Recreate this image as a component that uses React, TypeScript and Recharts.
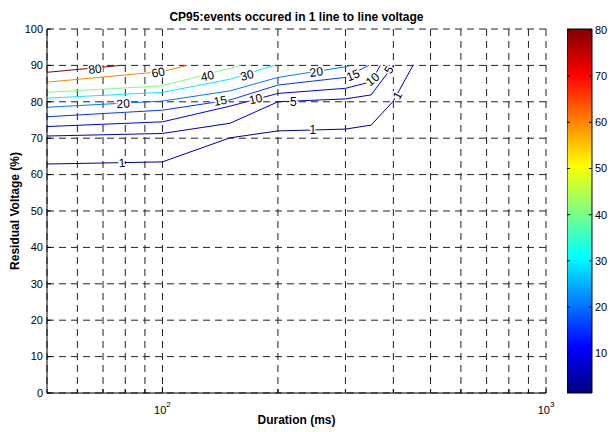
import { CartesianGrid, ComposedChart, Line, ReferenceArea, Scatter, XAxis, YAxis } from 'recharts';

const FONT = '"Liberation Sans", Arial, Helvetica, sans-serif';

// axis ticks (duration is log scaled, 50 ms .. 1 s)
const X_TICKS = [60, 70, 80, 90, 100, 200, 300, 400, 500, 600, 700, 800, 900, 1000];
const Y_TICKS = [0, 10, 20, 30, 40, 50, 60, 70, 80, 90, 100];
const CBAR_TICKS = [10, 20, 30, 40, 50, 60, 70, 80];
const CBAR_RANGE = [1.4, 80.2];

// contour lines, [duration ms, residual voltage %]
const LEVEL_1 = [[50, 62.9], [100, 63.5], [150, 70.1], [200, 72.0], [300, 72.5], [350, 73.6], [400, 80.2], [450, 90]];
const LEVEL_5 = [[50, 70.6], [100, 71.3], [150, 74.1], [200, 80.0], [300, 80.8], [350, 81.9], [400, 90]];
const LEVEL_10 = [[50, 73.2], [100, 74.5], [150, 78.8], [200, 82.3], [300, 83.7], [350, 85.5], [370, 90]];
const LEVEL_15 = [[50, 75.9], [100, 77.7], [150, 80.5], [200, 84.6], [300, 86.7], [345, 90]];
const LEVEL_20 = [[50, 78.5], [100, 80.2], [150, 83.0], [200, 86.7], [300, 89.6], [310, 90]];
const LEVEL_30 = [[50, 81.0], [100, 82.6], [150, 86.2], [195, 90]];
const LEVEL_40 = [[50, 82.6], [100, 84.4], [150, 89.2], [160, 90]];
const LEVEL_60 = [[50, 85.4], [100, 88.3], [116, 90]];
const LEVEL_80 = [[50, 88.1], [78, 90]];

// inline contour labels: text, duration, voltage
const LABEL_TEXT = ['80', '60', '40', '30', '20', '20', '15', '15', '10', '10', '5', '5', '1', '1', '1'];
const LABEL_MS = [66.7, 97.5, 131, 166, 79, 252, 141.5, 314, 175, 353, 219.5, 389, 78.5, 246.5, 410];
const LABEL_V = [89.0, 88.1, 87.1, 87.3, 79.5, 88.2, 80.3, 87.3, 80.8, 86.2, 80.0, 88.8, 63.2, 72.2, 81.8];
const LABEL_ANGLE = [-8, -12, -12, -14, -4, -8, -10, -22, -12, -40, 0, -60, -4, 0, -62];

// jet colormap colours at each level
const contours = [
  { level: 1, pts: LEVEL_1, color: '#00008b' },
  { level: 5, pts: LEVEL_5, color: '#0000b8' },
  { level: 10, pts: LEVEL_10, color: '#0000f2' },
  { level: 15, pts: LEVEL_15, color: '#0038ff' },
  { level: 20, pts: LEVEL_20, color: '#0078ff' },
  { level: 30, pts: LEVEL_30, color: '#00f0ff' },
  { level: 40, pts: LEVEL_40, color: '#7cff83' },
  { level: 60, pts: LEVEL_60, color: '#ff8400' },
  { level: 80, pts: LEVEL_80, color: '#800000' },
];

const labels = LABEL_TEXT.map((t, i) => ({ ms: LABEL_MS[i], v: LABEL_V[i], t, a: LABEL_ANGLE[i] }));

function XTick({ x, y, payload }: any) {
  const v = payload.value;
  const major = v === 100 || v === 1000;
  return (
    <g>
      <line x1={x} x2={x} y1={y} y2={y - (major ? 6 : 4)} stroke="#000" />
      {major && (
        <text x={x} y={y + 21} textAnchor="middle" fontSize={11} fontFamily={FONT} fill="#000">
          10<tspan dy={-7} fontSize={8}>{v === 100 ? '2' : '3'}</tspan>
        </text>
      )}
    </g>
  );
}

function YTick({ x, y, payload }: any) {
  return (
    <g>
      <line x1={x} x2={x + 4} y1={y} y2={y} stroke="#000" />
      <text x={x - 4} y={y} dy="0.35em" textAnchor="end" fontSize={11} fontFamily={FONT} fill="#000">
        {payload.value}
      </text>
    </g>
  );
}

function CbarTick({ x, y, payload }: any) {
  return (
    <g>
      <line x1={x - 3} x2={x} y1={y} y2={y} stroke="#000" />
      <line x1={x - 25} x2={x - 22} y1={y} y2={y} stroke="#000" />
      <text x={x + 3} y={y} dy="0.35em" textAnchor="start" fontSize={11} fontFamily={FONT} fill="#000">
        {payload.value}
      </text>
    </g>
  );
}

function ContourLabel(p: any) {
  const { cx, cy, payload } = p;
  return (
    <text
      x={cx}
      y={cy}
      dy="0.35em"
      textAnchor="middle"
      fontSize={12}
      fontFamily={FONT}
      fill="#000"
      stroke="#fff"
      strokeWidth={3}
      paintOrder="stroke"
      transform={`rotate(${payload.a}, ${cx}, ${cy})`}
    >
      {payload.t}
    </text>
  );
}

export default function App() {
  return (
    <div style={{ position: 'absolute', left: 0, top: 0, width: 613, height: 432, background: '#fff' }}>
      <svg width={0} height={0} style={{ position: 'absolute' }}>
        <defs>
          <linearGradient id="jet" x1="0" y1="1" x2="0" y2="0">
            <stop offset="0" stopColor="#000080" />
            <stop offset="0.125" stopColor="#0000ff" />
            <stop offset="0.375" stopColor="#00ffff" />
            <stop offset="0.625" stopColor="#ffff00" />
            <stop offset="0.875" stopColor="#ff0000" />
            <stop offset="1" stopColor="#800000" />
          </linearGradient>
        </defs>
      </svg>

      <div style={{ position: 'absolute', left: 0, top: 0 }}>
        <ComposedChart width={613} height={432} margin={{ top: 29, right: 67, bottom: 0, left: 0 }}>
          <CartesianGrid stroke="#222" strokeDasharray="7 5" />
          <XAxis
            dataKey="ms"
            type="number"
            scale="log"
            domain={[50, 1000]}
            allowDataOverflow
            ticks={X_TICKS}
            interval={0}
            height={39}
            tickSize={0}
            tickMargin={0}
            tick={<XTick />}
            axisLine={{ stroke: '#000' }}
          />
          <YAxis
            type="number"
            domain={[0, 100]}
            ticks={Y_TICKS}
            interval={0}
            width={47}
            tickSize={0}
            tickMargin={0}
            tick={<YTick />}
            axisLine={{ stroke: '#000' }}
          />
          {contours.map((c) => (
            <Line
              key={c.level}
              data={c.pts.map(([ms, v]) => ({ ms, v }))}
              dataKey="v"
              type="linear"
              stroke={c.color}
              strokeWidth={1}
              dot={false}
              activeDot={false}
              isAnimationActive={false}
            />
          ))}
          <Scatter data={labels} dataKey="v" shape={ContourLabel} isAnimationActive={false} />
        </ComposedChart>
      </div>

      <div style={{ position: 'absolute', left: 567, top: 0 }}>
        <ComposedChart
          width={46}
          height={432}
          data={[{ x: 0 }, { x: 1 }]}
          margin={{ top: 29, right: 0, bottom: 39, left: 0 }}
        >
          <XAxis dataKey="x" type="number" domain={[0, 1]} hide />
          <YAxis
            orientation="right"
            type="number"
            domain={CBAR_RANGE}
            allowDataOverflow
            ticks={CBAR_TICKS}
            interval={0}
            width={21}
            tickSize={0}
            tickMargin={0}
            tick={<CbarTick />}
            axisLine={false}
          />
          <ReferenceArea
            x1={0}
            x2={1}
            y1={CBAR_RANGE[0]}
            y2={CBAR_RANGE[1]}
            fill="url(#jet)"
            fillOpacity={1}
            stroke="#000"
            strokeWidth={1}
          />
        </ComposedChart>
      </div>

      <svg width={613} height={432} style={{ position: 'absolute', left: 0, top: 0, pointerEvents: 'none' }}>
        <text x={296.5} y={21} textAnchor="middle" fontSize={12} fontWeight="bold" fontFamily={FONT} fill="#000">
          CP95:events occured in 1 line to line voltage
        </text>
        <text x={296.5} y={424} textAnchor="middle" fontSize={12} fontWeight="bold" fontFamily={FONT} fill="#000">
          Duration (ms)
        </text>
        <text
          x={19}
          y={211}
          textAnchor="middle"
          fontSize={12}
          fontWeight="bold"
          fontFamily={FONT}
          fill="#000"
          transform="rotate(-90, 19, 211)"
        >
          Residual Voltage (%)
        </text>
      </svg>
    </div>
  );
}
